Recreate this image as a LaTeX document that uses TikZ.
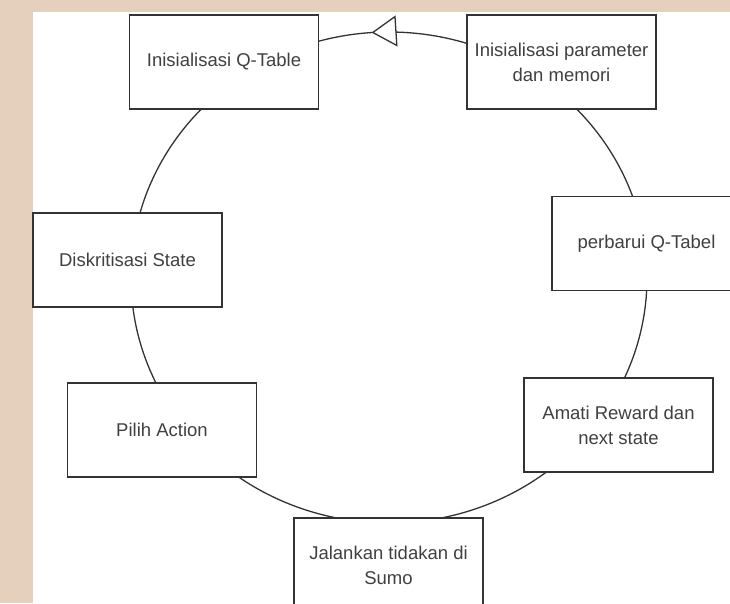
\documentclass[tikz,border=0pt]{standalone}
\usepackage{fontspec}
\setmainfont{Liberation Sans}
\usetikzlibrary{arrows.meta,decorations.markings}
\definecolor{latar}{RGB}{229,208,189}
\definecolor{garisabu}{RGB}{51,51,51}
\tikzset{
	kotak/.style={draw=garisabu, line width=1.3pt, fill=white, minimum width=189pt, minimum height=94pt, inner sep=0pt, align=center, text=black!75, font=\fontsize{18.5}{25}\selectfont},
	lingkaran/.style={draw=garisabu, line width=1.3pt}
}

\begin{document}
\begin{tikzpicture}[x=1pt,y=-1pt]
	\useasboundingbox (0,0) rectangle (730,603);
	\clip (0,0) rectangle (730,603);

	% latar belakang
	\fill[white] (0,0) rectangle (730,603);
	\fill[latar] (0,0) rectangle (32.5,603);
	\fill[latar] (0,0) rectangle (730,12);

	% siklus
	\coordinate (pusat) at (389,277.5);
	\draw[lingkaran, postaction={decorate},
		decoration={markings, mark=at position 0.739 with {\arrowreversed{Triangle[length=25pt,width=31pt,fill=white]}}}]
		(pusat) ellipse (258 and 245.5);

	% langkah
	\node[kotak] (qtabel) at (224,62) {Inisialisasi Q-Table};
	\node[kotak] (param) at (561.5,62) {Inisialisasi parameter\\dan memori};
	\node[kotak] (perbarui) at (646.5,243.5) {perbarui Q-Tabel};
	\node[kotak] (amati) at (618.5,425) {Amati Reward dan\\next state};
	\node[kotak] (jalankan) at (388.5,565) {Jalankan tidakan di\\Sumo};
	\node[kotak] (pilih) at (162,430) {Pilih Action};
	\node[kotak] (diskrit) at (127.5,260) {Diskritisasi State};

\end{tikzpicture}
\end{document}
